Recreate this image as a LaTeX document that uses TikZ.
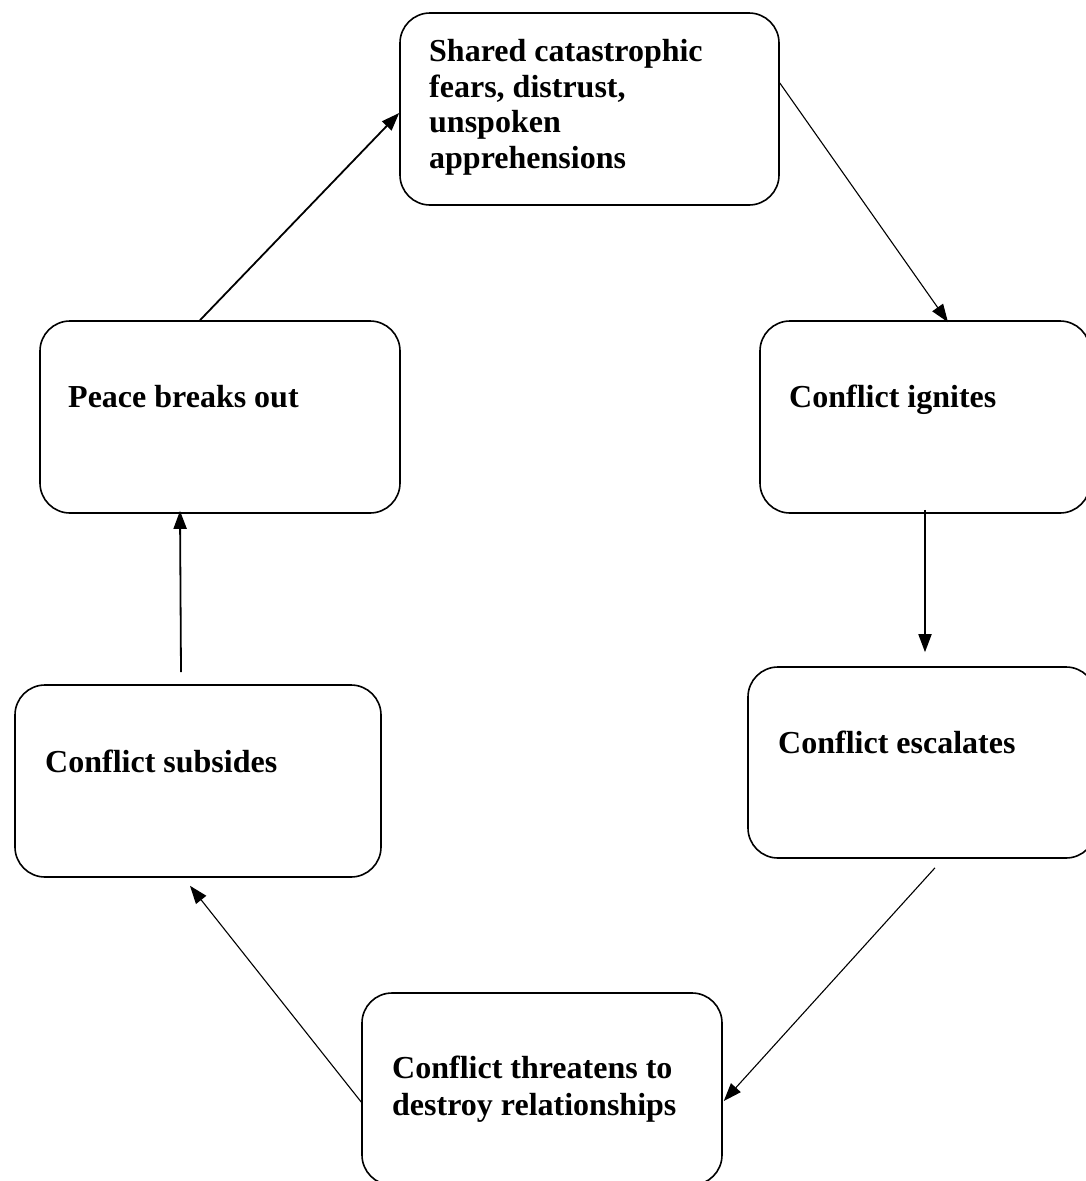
\documentclass[tikz,border=0pt]{standalone}
\usepackage{fontspec}
\setmainfont{Liberation Serif}
\usetikzlibrary{arrows.meta,calc}
\begin{document}
\begin{tikzpicture}[x=1pt,y=-1pt,
  stagebox/.style={draw,line width=1.6pt,rounded corners=30pt,rectangle,inner sep=0pt},
  stagetext/.style={anchor=base west,inner sep=0pt,align=left,
    font=\fontsize{32}{35.5}\selectfont\bfseries},
  flow/.style={-{Triangle[length=18pt,width=13pt]},line width=1.8pt},
  thinflow/.style={-{Triangle[length=18pt,width=13pt]},line width=1.1pt}]
\useasboundingbox (0,0) rectangle (1086,1181);
\fill[white] (0,0) rectangle (1086,1181);

% stage boxes
\node[stagebox,minimum width=379pt,minimum height=192pt] (top) at (589.5,109) {};
\node[stagebox,minimum width=330pt,minimum height=192pt] (ignites) at (925,417) {};
\node[stagebox,minimum width=348pt,minimum height=191pt] (escalates) at (922,762.5) {};
\node[stagebox,minimum width=360pt,minimum height=192pt] (threat) at (542,1089) {};
\node[stagebox,minimum width=366pt,minimum height=192pt] (subsides) at (198,781) {};
\node[stagebox,minimum width=360pt,minimum height=192pt] (peace) at (220,417) {};

% stage labels (multi-line labels are placed by the baseline of their last line)
\node[stagetext] (toplabel) at (429,168) {Shared catastrophic\\fears, distrust,\\unspoken\\apprehensions};
\node[stagetext] (igniteslabel) at (789,407) {Conflict ignites};
\node[stagetext] (escalateslabel) at (778,753) {Conflict escalates};
\node[stagetext,font=\fontsize{32}{37}\selectfont\bfseries] (threatlabel) at (392,1115) {Conflict threatens to\\destroy relationships};
\node[stagetext] (subsideslabel) at (45,772) {Conflict subsides};
\node[stagetext] (peacelabel) at (68,407) {Peace breaks out};

% cycle connectors
\draw[flow] ($(peace.north)+(-20,0)$) -- ($(top.west)+(0,4)$);
\draw[thinflow] ($(top.east)+(0,-26)$) -- ($(ignites.north)+(23,2)$);
\draw[flow] ($(ignites.south)+(0,-4)$) -- ($(escalates.north)+(3,-14)$);
\draw[thinflow] ($(escalates.south)+(13,9)$) -- ($(threat.east)+(1,12)$);
\draw[thinflow] ($(threat.west)+(0,13)$) -- ($(subsides.south)+(-8,8)$);
\draw[flow] ($(subsides.north)+(-17,-12)$) -- ($(peace.south)+(-40,-3)$);
\end{tikzpicture}
\end{document}
